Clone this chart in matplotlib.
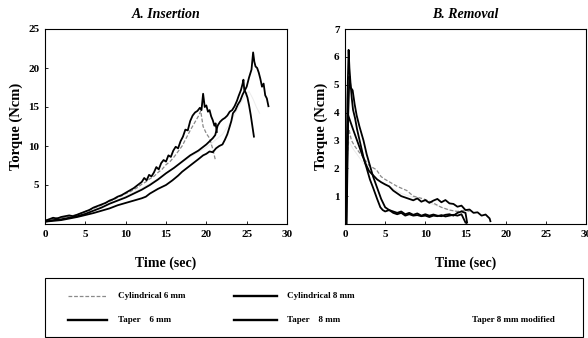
import matplotlib
matplotlib.use("Agg")
import matplotlib.pyplot as plt
from matplotlib.lines import Line2D
from matplotlib.patches import Rectangle

plt.rcParams['font.family'] = ['Liberation Serif', 'DejaVu Serif']

# ---------------- Data: A. Insertion ----------------
ins_cyl6_t = [0, 0.5, 1, 1.5, 2, 2.5, 3, 3.5, 4, 4.5, 5, 5.5, 6, 6.5, 7, 7.5, 8, 8.5, 9, 9.5,
              10, 10.5, 11, 11.5, 12, 12.5, 13, 13.5, 14, 14.5, 15, 15.5, 16, 16.5, 17, 17.5,
              18, 18.5, 19, 19.3, 19.6, 20, 20.4, 20.8, 21.1]
ins_cyl6_v = [0.5, 0.6, 0.7, 0.8, 0.8, 0.9, 1.0, 1.1, 1.2, 1.4, 1.6, 1.8, 2.0, 2.2, 2.4, 2.7, 2.9, 3.1, 3.4, 3.6,
              3.9, 4.1, 4.4, 4.7, 5.1, 5.4, 5.8, 6.1, 6.6, 7.0, 7.6, 8.0, 8.6, 9.3, 10.0, 11.0,
              12.0, 12.9, 13.8, 14.5, 12.5, 11.6, 11.0, 9.6, 8.3]

ins_cyl8_t = [0, 0.5, 1, 1.5, 2, 2.5, 3, 3.5, 4, 4.5, 5, 5.5, 6, 6.5, 7, 7.5, 8, 8.5, 9, 9.5,
              10, 10.5, 11, 11.5, 12, 12.3, 12.6, 12.9, 13.2, 13.5, 13.8, 14.1, 14.4, 14.7, 15,
              15.3, 15.6, 15.9, 16.2, 16.5, 16.8, 17.1, 17.4, 17.7, 18, 18.3, 18.6, 18.9, 19.2,
              19.4, 19.6, 19.8, 20, 20.2, 20.4, 20.6, 20.8, 21, 21.15, 21.3]
ins_cyl8_v = [0.4, 0.6, 0.8, 0.7, 0.9, 1.0, 1.1, 1.0, 1.2, 1.4, 1.6, 1.8, 2.1, 2.3, 2.5, 2.7, 3.0, 3.2, 3.5, 3.7,
              4.0, 4.3, 4.6, 5.0, 5.4, 5.9, 5.6, 6.3, 6.1, 6.6, 7.3, 7.0, 7.8, 8.2, 8.0,
              8.8, 8.6, 9.4, 9.9, 9.7, 10.6, 11.2, 12.1, 12.0, 13.2, 13.9, 14.3, 14.5, 14.9,
              14.6, 16.7, 15.0, 15.2, 14.4, 14.6, 13.8, 13.3, 12.6, 12.9, 11.8]

ins_tap6_t = [0, 1, 2, 3, 4, 5, 6, 7, 8, 9, 10, 11, 12, 13, 14, 15, 16, 17, 18, 19, 20,
              20.4, 20.8, 21.1, 21.4, 21.7, 22, 22.3, 22.6, 22.9, 23.2, 23.5, 23.8, 24.0, 24.3,
              24.5, 24.6, 24.7, 24.9, 25.1, 25.3, 25.5, 25.7, 25.9]
ins_tap6_v = [0.3, 0.5, 0.6, 0.8, 1.0, 1.3, 1.7, 2.1, 2.6, 3.0, 3.4, 3.9, 4.4, 5.0, 5.7, 6.5, 7.2, 8.0, 8.8, 9.4, 10.2,
              10.6, 11.0, 11.4, 12.6, 13.1, 13.4, 13.6, 13.9, 14.4, 14.6, 15.1, 15.8, 16.4, 17.2,
              18.0, 18.5, 17.2, 16.8, 16.2, 15.2, 14.0, 12.6, 11.2]

ins_tap8_t = [0, 1, 2, 3, 4, 5, 6, 7, 8, 9, 10, 11, 12, 12.5, 13, 14, 15, 15.8, 16.5, 17, 18, 19,
              19.6, 20, 20.4, 20.8, 21.2, 21.6, 22, 22.3, 22.6, 22.9, 23.1, 23.3, 23.6, 23.9, 24.2,
              24.5, 24.8, 25, 25.3, 25.6, 25.8, 25.95, 26.1, 26.3, 26.5, 26.7, 26.9, 27.1, 27.3,
              27.5, 27.7]
ins_tap8_v = [0.3, 0.4, 0.5, 0.7, 0.9, 1.15, 1.4, 1.7, 2.0, 2.4, 2.7, 3.0, 3.3, 3.5, 3.9, 4.5, 5.0, 5.6, 6.2, 6.7, 7.5, 8.3,
              8.8, 9.0, 9.3, 9.2, 9.7, 10.0, 10.2, 10.8, 11.5, 12.5, 13.2, 14.2, 14.6, 15.3, 15.8,
              16.6, 17.2, 17.6, 18.8, 19.8, 22.0, 20.8, 20.2, 20.0, 19.4, 18.6, 17.6, 18.0, 16.5,
              16.1, 15.1]

ins_mod_t = [0, 2, 4, 6, 8, 10, 12, 14, 16, 18, 20, 22, 23, 24, 24.8, 25.3, 25.8, 26.2, 26.6]
ins_mod_v = [0.5, 0.7, 1.1, 1.8, 2.6, 3.6, 4.6, 5.8, 7.2, 8.6, 9.8, 11.5, 13.0, 15.0, 16.5, 17.0, 16.0, 15.0, 14.2]

# ---------------- Data: B. Removal ----------------
rem_cyl6_t = [0.1, 0.3, 0.5, 0.8, 1.2, 1.7, 2.25, 3, 3.9, 4.5, 5, 5.6, 6.5, 7.7, 8.5, 9.8,
              11, 12, 13, 14, 15, 15.5]
rem_cyl6_v = [0.0, 2.5, 3.4, 3.0, 2.8, 2.6, 2.4, 2.1, 1.95, 1.7, 1.6, 1.5, 1.35, 1.2, 1.0, 0.9,
              0.75, 0.6, 0.5, 0.45, 0.5, 0.45]

rem_cyl8_t = [0.1, 0.2, 0.3, 0.45, 0.55, 0.7, 0.85, 1.0, 1.25, 1.5, 1.9, 2.3, 2.7, 3.1, 3.5, 4.0,
              4.4, 4.7, 5.0, 5.5, 6, 6.5, 7, 7.5, 8, 8.5, 9, 9.5, 10, 10.5, 11, 11.5, 12, 12.5,
              13, 13.5, 14, 14.5, 15]
rem_cyl8_v = [0.0, 2.0, 4.5, 6.25, 5.6, 5.0, 4.5, 4.1, 3.8, 3.4, 2.9, 2.4, 2.0, 1.6, 1.3, 0.9,
              0.6, 0.5, 0.45, 0.5, 0.4, 0.35, 0.4, 0.3, 0.35, 0.3, 0.32, 0.28, 0.3, 0.25, 0.3, 0.28, 0.32, 0.27,
              0.3, 0.33, 0.3, 0.35, 0.05]

rem_tap6_t = [0.15, 0.3, 0.55, 0.7, 0.95, 1.2, 1.45, 1.8, 2.3, 2.7, 3.1, 3.5, 4.0, 4.5, 5.0, 5.5,
              6.0, 6.5, 7, 7.5, 8, 8.5, 9, 9.5, 10, 10.5, 11, 11.5, 12, 12.5, 13, 13.5, 14,
              14.5, 15, 15.2]
rem_tap6_v = [0.0, 3.0, 5.3, 4.9, 4.8, 4.3, 3.9, 3.5, 3.0, 2.5, 2.1, 1.7, 1.3, 0.9, 0.6, 0.5,
              0.45, 0.4, 0.45, 0.35, 0.4, 0.33, 0.38, 0.3, 0.35, 0.3, 0.34, 0.3, 0.28, 0.33, 0.35, 0.3, 0.4,
              0.45, 0.4, 0.05]

rem_tap8_t = [0.2, 0.4, 1, 1.5, 2, 2.5, 3, 3.5, 4, 4.5, 5, 5.5, 6, 6.5, 7, 7.5, 8, 8.5, 9, 9.5,
              10, 10.5, 11, 11.5, 12, 12.5, 13, 13.5, 14, 14.5, 15, 15.5, 16, 16.5, 17, 17.5, 18, 18.1]
rem_tap8_v = [0.0, 3.9, 3.4, 3.0, 2.6, 2.2, 1.9, 1.75, 1.6, 1.5, 1.42, 1.35, 1.2, 1.1, 1.0, 0.95, 0.9, 0.85, 0.92, 0.8,
              0.86, 0.76, 0.84, 0.9, 0.78, 0.86, 0.74, 0.72, 0.62, 0.66, 0.5, 0.52, 0.4, 0.42, 0.3, 0.34, 0.2, 0.1]

rem_mod_t = [0.2, 0.4, 1, 2, 3, 4, 5.3, 7, 9, 11, 13, 15]
rem_mod_v = [0.0, 3.0, 2.7, 2.3, 1.9, 1.6, 1.4, 1.1, 0.9, 0.7, 0.5, 0.4]

labels = ["Cylindrical 6 mm", "Cylindrical 8 mm", "Taper    6 mm", "Taper    8 mm", "Taper 8 mm modified"]

# ---------------- Figure ----------------
W, H = 588, 338
fig = plt.figure(figsize=(W / 100, H / 100), dpi=100)

def fx(px):
    return px / W

def fy(py):
    return 1 - py / H

axA = fig.add_axes([fx(45), fy(224), fx(287) - fx(45), fy(29) - fy(224)])
axB = fig.add_axes([fx(345), fy(224), fx(586) - fx(345), fy(29) - fy(224)])

styles = [
    dict(color="#8a8a8a", lw=0.9, ls=(0, (3, 1.5))),
    dict(color="black", lw=1.3, ls="-"),
    dict(color="black", lw=1.3, ls="-"),
    dict(color="black", lw=1.3, ls="-"),
    dict(color="#ececec", lw=0.7, ls="-"),
]

insertion = [(ins_cyl6_t, ins_cyl6_v), (ins_cyl8_t, ins_cyl8_v), (ins_tap6_t, ins_tap6_v),
             (ins_tap8_t, ins_tap8_v), (ins_mod_t, ins_mod_v)]
removal = [(rem_cyl6_t, rem_cyl6_v), (rem_cyl8_t, rem_cyl8_v), (rem_tap6_t, rem_tap6_v),
           (rem_tap8_t, rem_tap8_v), (rem_mod_t, rem_mod_v)]

order = [4, 0, 3, 2, 1]
for i in order:
    axA.plot(*insertion[i], **styles[i], label=labels[i])
    axB.plot(*removal[i], **styles[i], label=labels[i])

for ax, ylim, yt in [(axA, 25, [5, 10, 15, 20, 25]), (axB, 7, [1, 2, 3, 4, 5, 6, 7])]:
    ax.set_xlim(0, 30)
    ax.set_ylim(0, ylim)
    ax.set_xticks([0, 5, 10, 15, 20, 25, 30])
    ax.set_yticks(yt)
    ax.tick_params(direction="in", length=2, width=0.6, pad=4)
    for lab in ax.get_xticklabels() + ax.get_yticklabels():
        lab.set_fontfamily("Liberation Serif")
        lab.set_fontweight("bold")
        lab.set_fontsize(8)
    for s in ax.spines.values():
        s.set_linewidth(0.8)
    ax.set_xlabel("Time (sec)", fontsize=10, fontweight="bold", labelpad=13)
    ax.set_ylabel("Torque (Ncm)", fontsize=10.5, fontweight="bold", labelpad=4)

axA.set_title("A. Insertion", fontsize=10, fontweight="bold", style="italic", pad=8)
axB.set_title("B. Removal", fontsize=10, fontweight="bold", style="italic", pad=8)

# ---------------- Legend box ----------------
fig.add_artist(Rectangle((fx(45), fy(337)), fx(583) - fx(45), fy(278) - fy(337),
                         transform=fig.transFigure, fill=False, lw=0.8, ec="black"))
entries = [
    (0, 68, 107, 118, 296),
    (1, 234, 277, 287, 296),
    (2, 68, 107, 118, 320),
    (3, 234, 277, 287, 320),
    (4, 430, 465, 472, 320),
]
for i, x0, x1, xt, yy in entries:
    st = styles[i]
    fig.add_artist(Line2D([fx(x0), fx(x1)], [fy(yy), fy(yy)], transform=fig.transFigure,
                          color=st["color"] if i != 4 else "white", lw=st["lw"] + (0.4 if i else 0),
                          ls=st["ls"]))
    fig.text(fx(xt), fy(yy), labels[i], fontsize=6.5, fontweight="bold",
             family="Liberation Serif", va="center", ha="left")

fig.savefig("out.png", dpi=100)
